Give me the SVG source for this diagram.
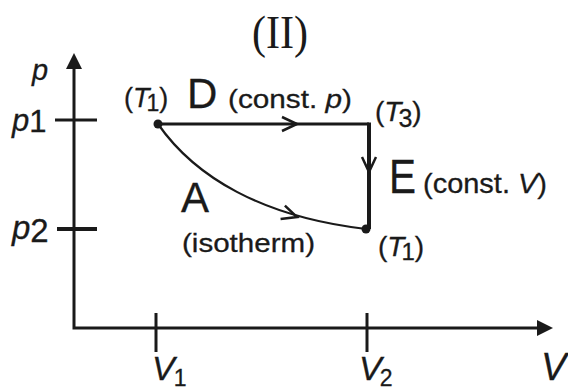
<svg xmlns="http://www.w3.org/2000/svg" width="568" height="392" viewBox="0 0 568 392">
<style>
.ln{fill:none;stroke:#1a1a1a;stroke-linecap:butt;stroke-linejoin:miter}
.t{font-family:"Liberation Sans",Arial,sans-serif;fill:#1a1a1a;stroke:#1a1a1a;stroke-width:0.3}
.i{font-style:italic}
.ser{font-family:"Liberation Serif","Times New Roman",serif;fill:#1a1a1a}
</style>
<defs>
<path id="chev" d="M-15,-7 L0,0 L-15,7" fill="none" stroke="#1a1a1a" stroke-width="2.5"/>
</defs>
<rect width="568" height="392" fill="#fff"/>
<text class="ser" x="280" y="48" font-size="46" text-anchor="middle" textLength="56" lengthAdjust="spacingAndGlyphs">(II)</text>
<g id="axes">
<path class="ln" d="M74,66 V328 H540" stroke-width="3"/>
<polygon points="74,53 66,69 82,69" fill="#1a1a1a"/>
<polygon points="553,328 537,320 537,336" fill="#1a1a1a"/>
<path class="ln" d="M55,120 H97" stroke-width="3"/>
<path class="ln" d="M57,229 H97" stroke-width="4"/>
<path class="ln" d="M156,313 V352" stroke-width="3"/>
<path class="ln" d="M367,313 V352" stroke-width="3"/>
<text class="t i" x="32" y="80" font-size="29">p</text>
<text class="t" x="12" y="131" font-size="31"><tspan class="i">p</tspan><tspan dy="1">1</tspan></text>
<text class="t" x="12" y="239" font-size="33"><tspan class="i">p</tspan><tspan dy="3">2</tspan></text>
<text class="t" x="152" y="380" font-size="34"><tspan class="i">V</tspan><tspan font-size="23" dx="-1" dy="6">1</tspan></text>
<text class="t" x="359" y="380" font-size="34"><tspan class="i">V</tspan><tspan font-size="23" dx="-2" dy="6">2</tspan></text>
<text class="t i" x="541" y="380" font-size="38">V</text>
</g>
<g id="connectors">
<path class="ln" d="M158,124 H369" stroke-width="3"/>
<path class="ln" d="M369,122.5 V229" stroke-width="4"/>
<path class="ln" d="M158,124 C195,177 262,217 366,229" stroke-width="2.2"/>
<use href="#chev" transform="translate(297,124)"/>
<use href="#chev" transform="translate(369,172) rotate(90)"/>
<use href="#chev" transform="translate(297,217) rotate(18)"/>
</g>
<g id="node-start">
<circle cx="158" cy="124" r="4.5" fill="#1a1a1a"/>
<text class="t" x="124" y="107" font-size="27">(<tspan class="i">T</tspan><tspan font-size="23" dx="-3" dy="4">1</tspan><tspan dy="-4">)</tspan></text>
</g>
<g id="node-T3">
<text class="t" x="375" y="121" font-size="28">(<tspan class="i">T</tspan><tspan font-size="25" dx="-3" dy="6">3</tspan><tspan dy="-6">)</tspan></text>
</g>
<g id="node-end">
<circle cx="366" cy="229" r="4.5" fill="#1a1a1a"/>
<text class="t" x="378" y="256" font-size="28">(<tspan class="i">T</tspan><tspan font-size="24" dx="-3" dy="4">1</tspan><tspan dy="-4">)</tspan></text>
</g>
<g id="label-D">
<text class="t" x="187" y="108" font-size="42">D</text>
<text class="t" x="228" y="108" font-size="26" textLength="124" lengthAdjust="spacingAndGlyphs">(const. <tspan class="i">p</tspan>)</text>
</g>
<g id="label-E">
<text class="t" x="389" y="193" font-size="49" textLength="27" lengthAdjust="spacingAndGlyphs">E</text>
<text class="t" x="423" y="193" font-size="28" textLength="124" lengthAdjust="spacingAndGlyphs">(const. <tspan class="i">V</tspan>)</text>
</g>
<g id="label-A">
<text class="t" x="181" y="212" font-size="42">A</text>
<text class="t" x="182" y="252" font-size="26" textLength="133" lengthAdjust="spacingAndGlyphs">(isotherm)</text>
</g>
</svg>
